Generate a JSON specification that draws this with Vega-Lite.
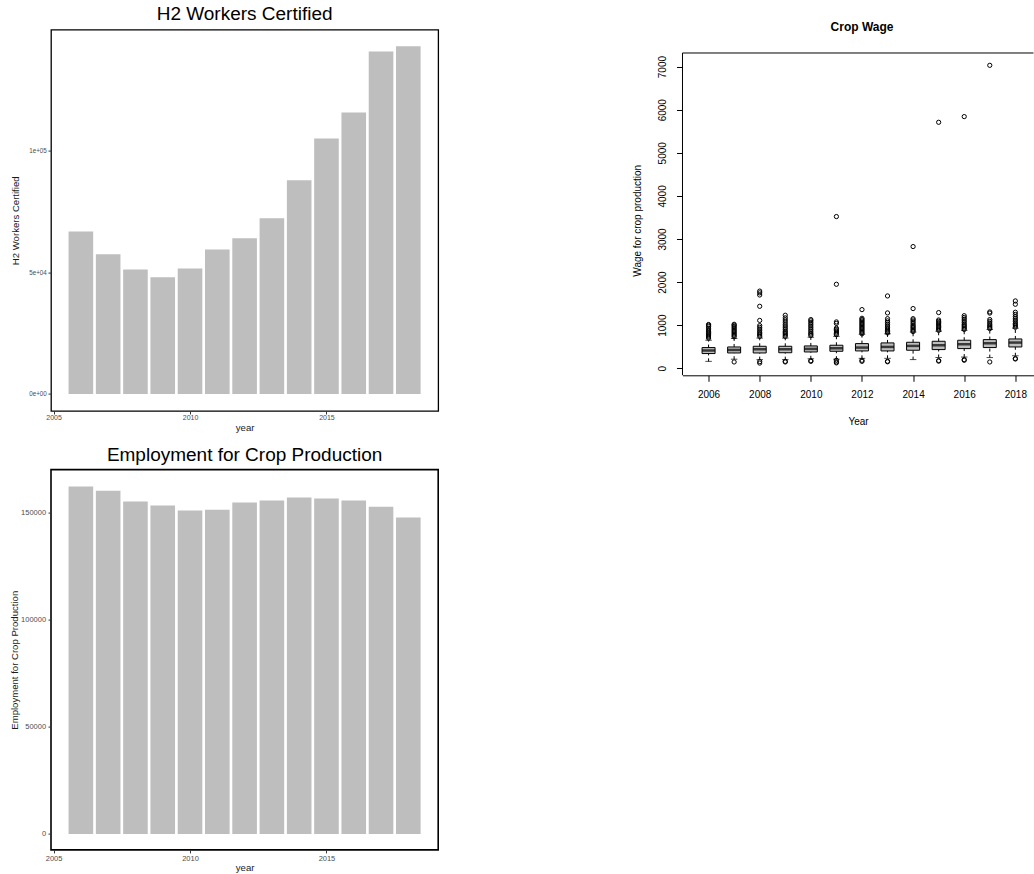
{
  "$schema": "https://vega.github.io/schema/vega-lite/v6.json",
  "padding": {"left": 9, "top": 3.3, "right": 0, "bottom": 0},
  "background": "white",
  "config": {
    "font": "Liberation Sans",
    "axis": {"grid": false},
    "title": {"font": "Liberation Sans", "color": "black"}
  },
  "datasets": {
    "h2": [
      {"year": 2006, "workers": 66800},
      {"year": 2007, "workers": 57400},
      {"year": 2008, "workers": 51200},
      {"year": 2009, "workers": 48000},
      {"year": 2010, "workers": 51600},
      {"year": 2011, "workers": 59400},
      {"year": 2012, "workers": 64000},
      {"year": 2013, "workers": 72200},
      {"year": 2014, "workers": 87800},
      {"year": 2015, "workers": 105000},
      {"year": 2016, "workers": 115700},
      {"year": 2017, "workers": 140800},
      {"year": 2018, "workers": 142900}
    ],
    "employment": [
      {"year": 2006, "jobs": 162300},
      {"year": 2007, "jobs": 160400},
      {"year": 2008, "jobs": 155300},
      {"year": 2009, "jobs": 153400},
      {"year": 2010, "jobs": 151100},
      {"year": 2011, "jobs": 151500},
      {"year": 2012, "jobs": 154800},
      {"year": 2013, "jobs": 155800},
      {"year": 2014, "jobs": 157200},
      {"year": 2015, "jobs": 156700},
      {"year": 2016, "jobs": 155800},
      {"year": 2017, "jobs": 152900},
      {"year": 2018, "jobs": 147800}
    ],
    "wage": [
      {"year": 2006, "lo": 160, "q1": 341, "med": 410, "q3": 480, "hi": 650},
      {"year": 2007, "lo": 210, "q1": 355, "med": 425, "q3": 494, "hi": 690},
      {"year": 2008, "lo": 200, "q1": 355, "med": 441, "q3": 510, "hi": 700},
      {"year": 2009, "lo": 200, "q1": 360, "med": 441, "q3": 510, "hi": 700},
      {"year": 2010, "lo": 220, "q1": 378, "med": 449, "q3": 518, "hi": 720},
      {"year": 2011, "lo": 210, "q1": 394, "med": 464, "q3": 534, "hi": 740},
      {"year": 2012, "lo": 230, "q1": 402, "med": 480, "q3": 572, "hi": 790},
      {"year": 2013, "lo": 230, "q1": 402, "med": 495, "q3": 588, "hi": 800},
      {"year": 2014, "lo": 201, "q1": 418, "med": 518, "q3": 603, "hi": 840},
      {"year": 2015, "lo": 250, "q1": 433, "med": 534, "q3": 626, "hi": 860},
      {"year": 2016, "lo": 260, "q1": 456, "med": 557, "q3": 650, "hi": 880},
      {"year": 2017, "lo": 248, "q1": 480, "med": 580, "q3": 665, "hi": 900},
      {"year": 2018, "lo": 290, "q1": 494, "med": 596, "q3": 680, "hi": 930}
    ],
    "outliers": [
      {"year": 2006, "wage": 700}, {"year": 2006, "wage": 725}, {"year": 2006, "wage": 750}, {"year": 2006, "wage": 775},
      {"year": 2006, "wage": 800}, {"year": 2006, "wage": 830}, {"year": 2006, "wage": 860}, {"year": 2006, "wage": 890},
      {"year": 2006, "wage": 930}, {"year": 2006, "wage": 970}, {"year": 2006, "wage": 1000}, {"year": 2006, "wage": 1015},
      {"year": 2007, "wage": 146}, {"year": 2007, "wage": 730}, {"year": 2007, "wage": 760}, {"year": 2007, "wage": 790},
      {"year": 2007, "wage": 820}, {"year": 2007, "wage": 850}, {"year": 2007, "wage": 880}, {"year": 2007, "wage": 910},
      {"year": 2007, "wage": 940}, {"year": 2007, "wage": 970}, {"year": 2007, "wage": 1000}, {"year": 2007, "wage": 1020},
      {"year": 2008, "wage": 120}, {"year": 2008, "wage": 155}, {"year": 2008, "wage": 740}, {"year": 2008, "wage": 770},
      {"year": 2008, "wage": 800}, {"year": 2008, "wage": 830}, {"year": 2008, "wage": 870}, {"year": 2008, "wage": 910},
      {"year": 2008, "wage": 950}, {"year": 2008, "wage": 990}, {"year": 2008, "wage": 1110}, {"year": 2008, "wage": 1438},
      {"year": 2008, "wage": 1700}, {"year": 2008, "wage": 1750}, {"year": 2008, "wage": 1790},
      {"year": 2009, "wage": 146}, {"year": 2009, "wage": 160}, {"year": 2009, "wage": 740}, {"year": 2009, "wage": 770},
      {"year": 2009, "wage": 800}, {"year": 2009, "wage": 830}, {"year": 2009, "wage": 860}, {"year": 2009, "wage": 900},
      {"year": 2009, "wage": 940}, {"year": 2009, "wage": 980}, {"year": 2009, "wage": 1020}, {"year": 2009, "wage": 1070},
      {"year": 2009, "wage": 1120}, {"year": 2009, "wage": 1170}, {"year": 2009, "wage": 1230},
      {"year": 2010, "wage": 160}, {"year": 2010, "wage": 175}, {"year": 2010, "wage": 760}, {"year": 2010, "wage": 790},
      {"year": 2010, "wage": 820}, {"year": 2010, "wage": 860}, {"year": 2010, "wage": 900}, {"year": 2010, "wage": 940},
      {"year": 2010, "wage": 980}, {"year": 2010, "wage": 1020}, {"year": 2010, "wage": 1060}, {"year": 2010, "wage": 1100},
      {"year": 2010, "wage": 1130},
      {"year": 2011, "wage": 125}, {"year": 2011, "wage": 146}, {"year": 2011, "wage": 185}, {"year": 2011, "wage": 780},
      {"year": 2011, "wage": 810}, {"year": 2011, "wage": 840}, {"year": 2011, "wage": 870}, {"year": 2011, "wage": 900},
      {"year": 2011, "wage": 930}, {"year": 2011, "wage": 1040}, {"year": 2011, "wage": 1075}, {"year": 2011, "wage": 1949},
      {"year": 2011, "wage": 3520},
      {"year": 2012, "wage": 160}, {"year": 2012, "wage": 185}, {"year": 2012, "wage": 800}, {"year": 2012, "wage": 830},
      {"year": 2012, "wage": 860}, {"year": 2012, "wage": 890}, {"year": 2012, "wage": 920}, {"year": 2012, "wage": 950},
      {"year": 2012, "wage": 980}, {"year": 2012, "wage": 1010}, {"year": 2012, "wage": 1040}, {"year": 2012, "wage": 1070},
      {"year": 2012, "wage": 1100}, {"year": 2012, "wage": 1130}, {"year": 2012, "wage": 1160}, {"year": 2012, "wage": 1361},
      {"year": 2013, "wage": 150}, {"year": 2013, "wage": 162}, {"year": 2013, "wage": 820}, {"year": 2013, "wage": 850},
      {"year": 2013, "wage": 880}, {"year": 2013, "wage": 910}, {"year": 2013, "wage": 940}, {"year": 2013, "wage": 980},
      {"year": 2013, "wage": 1020}, {"year": 2013, "wage": 1060}, {"year": 2013, "wage": 1100}, {"year": 2013, "wage": 1150},
      {"year": 2013, "wage": 1284}, {"year": 2013, "wage": 1678},
      {"year": 2014, "wage": 850}, {"year": 2014, "wage": 880}, {"year": 2014, "wage": 910}, {"year": 2014, "wage": 940},
      {"year": 2014, "wage": 970}, {"year": 2014, "wage": 1000}, {"year": 2014, "wage": 1040}, {"year": 2014, "wage": 1080},
      {"year": 2014, "wage": 1120}, {"year": 2014, "wage": 1150}, {"year": 2014, "wage": 1385}, {"year": 2014, "wage": 2824},
      {"year": 2015, "wage": 165}, {"year": 2015, "wage": 178}, {"year": 2015, "wage": 880}, {"year": 2015, "wage": 910},
      {"year": 2015, "wage": 940}, {"year": 2015, "wage": 970}, {"year": 2015, "wage": 1000}, {"year": 2015, "wage": 1030},
      {"year": 2015, "wage": 1060}, {"year": 2015, "wage": 1090}, {"year": 2015, "wage": 1120}, {"year": 2015, "wage": 1292},
      {"year": 2015, "wage": 5708},
      {"year": 2016, "wage": 185}, {"year": 2016, "wage": 201}, {"year": 2016, "wage": 900}, {"year": 2016, "wage": 930},
      {"year": 2016, "wage": 960}, {"year": 2016, "wage": 990}, {"year": 2016, "wage": 1020}, {"year": 2016, "wage": 1060},
      {"year": 2016, "wage": 1100}, {"year": 2016, "wage": 1140}, {"year": 2016, "wage": 1180}, {"year": 2016, "wage": 1220},
      {"year": 2016, "wage": 5840},
      {"year": 2017, "wage": 146}, {"year": 2017, "wage": 920}, {"year": 2017, "wage": 950}, {"year": 2017, "wage": 980},
      {"year": 2017, "wage": 1010}, {"year": 2017, "wage": 1050}, {"year": 2017, "wage": 1090}, {"year": 2017, "wage": 1130},
      {"year": 2017, "wage": 1280}, {"year": 2017, "wage": 1307}, {"year": 2017, "wage": 7030},
      {"year": 2018, "wage": 215}, {"year": 2018, "wage": 225}, {"year": 2018, "wage": 950}, {"year": 2018, "wage": 980},
      {"year": 2018, "wage": 1010}, {"year": 2018, "wage": 1040}, {"year": 2018, "wage": 1080}, {"year": 2018, "wage": 1120},
      {"year": 2018, "wage": 1160}, {"year": 2018, "wage": 1200}, {"year": 2018, "wage": 1250}, {"year": 2018, "wage": 1300},
      {"year": 2018, "wage": 1485}, {"year": 2018, "wage": 1562}
    ]
  },
  "columns": 2,
  "bounds": "flush",
  "center": {"row": true},
  "spacing": {"column": 243.5, "row": 58.3},
  "concat": [
    {
      "width": 387.2,
      "height": 381.4,
      "view": {"stroke": "black", "strokeWidth": 1.3},
      "title": {"text": "H2 Workers Certified", "fontSize": 19, "fontWeight": "normal", "anchor": "middle", "baseline": "alphabetic", "offset": -9},
      "data": {"name": "h2"},
      "mark": {"type": "bar", "width": 24.6, "color": "#bebebe"},
      "encoding": {
        "x": {
          "field": "year", "type": "quantitative",
          "scale": {"domain": [2004.905, 2019.095], "nice": false, "zero": false, "padding": 0},
          "axis": {"values": [2005, 2010, 2015], "format": "d", "labelFlush": false, "domain": false,
                   "labelFontSize": 7, "labelColor": "#4d4d4d", "tickColor": "#333333", "tickSize": 3, "labelPadding": 0,
                   "title": "year", "titleFontSize": 9.6, "titleFontWeight": "normal", "titleColor": "#1a1a1a", "titlePadding": 2}
        },
        "y": {
          "field": "workers", "type": "quantitative",
          "scale": {"domain": [-7000, 149750], "nice": false, "zero": false},
          "axis": {"values": [0, 50000, 100000], "domain": false,
                   "labelExpr": "datum.value == 0 ? '0e+00' : datum.value == 50000 ? '5e+04' : '1e+05'",
                   "labelFontSize": 6.3, "labelColor": "#4d4d4d", "tickColor": "#333333", "tickSize": 3, "labelPadding": 1.7,
                   "title": "H2 Workers Certified", "titleFontSize": 9.6, "titleFontWeight": "normal", "titleColor": "#1a1a1a", "titlePadding": 8.6}
        },
        "y2": {"datum": 0}
      }
    },
    {
      "width": 351,
      "height": 334.6,
      "view": {"stroke": null},
      "title": {"text": "Crop Wage", "fontSize": 12, "fontWeight": "bold", "anchor": "middle", "baseline": "alphabetic", "offset": 9.4, "dx": 4},
      "layer": [
        {
          "data": {"name": "wage"},
          "mark": {"type": "bar", "width": 13, "fill": "#bebebe", "stroke": "black", "strokeWidth": 1},
          "encoding": {
            "x": {
              "field": "year", "type": "quantitative",
              "scale": {"domain": [2004.98, 2018.71], "nice": false, "zero": false, "padding": 0},
              "axis": {"values": [2006, 2007, 2008, 2009, 2010, 2011, 2012, 2013, 2014, 2015, 2016, 2017, 2018],
                       "labelExpr": "datum.value % 2 === 0 ? format(datum.value, 'd') : ''",
                       "labelOverlap": false, "labelFlush": false, "offset": -12.3,
                       "domain": true, "domainColor": "black", "domainWidth": 1,
                       "tickColor": "black", "tickSize": 6, "labelPadding": 8, "labelFontSize": 10, "labelColor": "black",
                       "title": "Year", "titleFontSize": 10, "titleFontWeight": "normal", "titleColor": "black", "titlePadding": 17}
            },
            "y": {
              "field": "q1", "type": "quantitative",
              "scale": {"domain": [-449, 7316], "nice": false, "zero": false, "padding": 0},
              "axis": {"values": [0, 1000, 2000, 3000, 4000, 5000, 6000, 7000], "format": "d",
                       "labelAngle": -90, "labelAlign": "center", "labelBaseline": "bottom",
                       "domain": false,
                       "tickColor": "black", "tickSize": 6, "labelPadding": 9, "labelFontSize": 10, "labelColor": "black",
                       "title": "Wage for crop production", "titleFontSize": 10, "titleFontWeight": "normal", "titleColor": "black", "titlePadding": 15}
            },
            "y2": {"field": "q3"}
          }
        },
        {
          "data": {"name": "wage"},
          "mark": {"type": "rule", "color": "black", "strokeWidth": 1, "strokeDash": [3, 3]},
          "encoding": {
            "x": {"field": "year", "type": "quantitative"},
            "y": {"field": "lo", "type": "quantitative"},
            "y2": {"field": "q1"}
          }
        },
        {
          "data": {"name": "wage"},
          "mark": {"type": "rule", "color": "black", "strokeWidth": 1, "strokeDash": [3, 3]},
          "encoding": {
            "x": {"field": "year", "type": "quantitative"},
            "y": {"field": "q3", "type": "quantitative"},
            "y2": {"field": "hi"}
          }
        },
        {
          "data": {"name": "wage"},
          "mark": {"type": "tick", "orient": "horizontal", "size": 6.5, "thickness": 1, "color": "black"},
          "encoding": {
            "x": {"field": "year", "type": "quantitative"},
            "y": {"field": "lo", "type": "quantitative"}
          }
        },
        {
          "data": {"name": "wage"},
          "mark": {"type": "tick", "orient": "horizontal", "size": 6.5, "thickness": 1, "color": "black"},
          "encoding": {
            "x": {"field": "year", "type": "quantitative"},
            "y": {"field": "hi", "type": "quantitative"}
          }
        },
        {
          "data": {"name": "wage"},
          "mark": {"type": "tick", "orient": "horizontal", "size": 13, "thickness": 2.5, "color": "black"},
          "encoding": {
            "x": {"field": "year", "type": "quantitative"},
            "y": {"field": "med", "type": "quantitative"}
          }
        },
        {
          "data": {"name": "outliers"},
          "mark": {"type": "point", "shape": "circle", "filled": false, "size": 18, "stroke": "black", "strokeWidth": 1, "opacity": 1},
          "encoding": {
            "x": {"field": "year", "type": "quantitative"},
            "y": {"field": "wage", "type": "quantitative"}
          }
        },
        {
          "data": {"name": "wage"},
          "transform": [{"aggregate": [{"op": "count", "as": "n"}]}],
          "mark": {"type": "rule", "color": "black", "strokeWidth": 1},
          "encoding": {
            "y": {"datum": 7316, "type": "quantitative"}
          }
        },
        {
          "data": {"name": "wage"},
          "transform": [{"aggregate": [{"op": "count", "as": "n"}]}],
          "mark": {"type": "rule", "color": "black", "strokeWidth": 1},
          "encoding": {
            "x": {"datum": 2004.98, "type": "quantitative"},
            "y": {"datum": -162, "type": "quantitative"},
            "y2": {"datum": 7316}
          }
        }
      ]
    },
    {
      "width": 387.2,
      "height": 380.3,
      "view": {"stroke": "black", "strokeWidth": 1.6},
      "title": {"text": "Employment for Crop Production", "fontSize": 19, "fontWeight": "normal", "anchor": "middle", "baseline": "alphabetic", "offset": -10},
      "data": {"name": "employment"},
      "mark": {"type": "bar", "width": 24.6, "color": "#bebebe"},
      "encoding": {
        "x": {
          "field": "year", "type": "quantitative",
          "scale": {"domain": [2004.905, 2019.095], "nice": false, "zero": false, "padding": 0},
          "axis": {"values": [2005, 2010, 2015], "format": "d", "labelFlush": false, "domain": false,
                   "labelFontSize": 7.5, "labelColor": "#4d4d4d", "tickColor": "#333333", "tickSize": 3, "labelPadding": 2,
                   "title": "year", "titleFontSize": 9.6, "titleFontWeight": "normal", "titleColor": "#1a1a1a", "titlePadding": 0}
        },
        "y": {
          "field": "jobs", "type": "quantitative",
          "scale": {"domain": [-7480, 170230], "nice": false, "zero": false},
          "axis": {"values": [0, 50000, 100000, 150000], "format": "d", "domain": false,
                   "labelFontSize": 7.5, "labelColor": "#4d4d4d", "tickColor": "#333333", "tickSize": 3, "labelPadding": 2.4,
                   "title": "Employment for Crop Production", "titleFontSize": 9.6, "titleFontWeight": "normal", "titleColor": "#1a1a1a", "titlePadding": 0.6}
        },
        "y2": {"datum": 0}
      }
    }
  ]
}
